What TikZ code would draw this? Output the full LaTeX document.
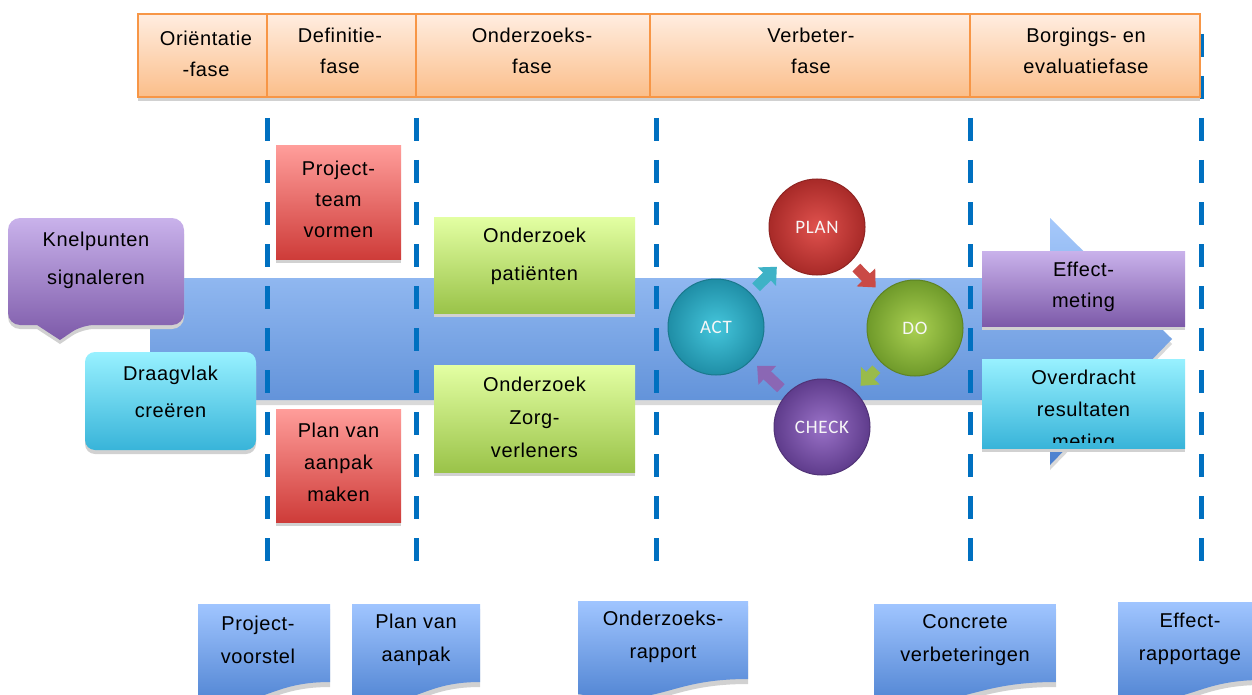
\documentclass[tikz,border=0pt]{standalone}
\usepackage{fontspec}
\setmainfont[LetterSpace=3]{Liberation Sans}
\newfontfamily\pdcafont[LetterSpace=4]{Carlito}
\usetikzlibrary{arrows.meta,shadows}
\definecolor{phTop}{HTML}{FFEDE0}
\definecolor{phBot}{HTML}{FBBE8A}
\definecolor{phBorder}{HTML}{F79646}
\definecolor{redTop}{HTML}{FF9D9A}
\definecolor{redBot}{HTML}{CE3C39}
\definecolor{grnTop}{HTML}{E3FFA3}
\definecolor{grnBot}{HTML}{9AC349}
\definecolor{purTop}{HTML}{C9B2EB}
\definecolor{purBot}{HTML}{7D5AA9}
\definecolor{cyTop}{HTML}{98F1FF}
\definecolor{cyBot}{HTML}{38B4D9}
\definecolor{docTop}{HTML}{A0C5FF}
\definecolor{docBot}{HTML}{4A7FCF}
\definecolor{arrTop}{HTML}{A6C9FB}
\definecolor{arrBot}{HTML}{4B80CE}
\definecolor{dashC}{HTML}{0070C0}
\definecolor{planIn}{HTML}{E0524E}
\definecolor{planOut}{HTML}{A82A28}
\definecolor{actIn}{HTML}{45C6DC}
\definecolor{actOut}{HTML}{1F8EA6}
\definecolor{doIn}{HTML}{AAD052}
\definecolor{doOut}{HTML}{6F9A2A}
\definecolor{chkIn}{HTML}{9A72C8}
\definecolor{chkOut}{HTML}{5F3C8C}
\begin{document}
\begin{tikzpicture}[x=1pt,y=-1pt,
  shd/.style={drop shadow={shadow xshift=0pt,shadow yshift=-4pt,fill=black!18,opacity=1}},
  txt/.style={align=center,inner sep=0pt,text=black,font=\fontsize{20}{32}\selectfont},
  phase/.style={draw=phBorder,line width=1.5pt,top color=phTop,bottom color=phBot,inner sep=0pt,minimum height=83,shd},
  redbox/.style={top color=redTop,bottom color=redBot,inner sep=0pt,minimum width=125,minimum height=113,shd},
  grnbox/.style={top color=grnTop,bottom color=grnBot,inner sep=0pt,minimum width=201,shd},
  purbox/.style={top color=purTop,bottom color=purBot,inner sep=0pt,shd},
  cybox/.style={top color=cyTop,bottom color=cyBot,inner sep=0pt,shd},
  dashline/.style={draw=dashC,line width=5pt,dash pattern=on 23pt off 19pt},
  pdca/.style={circle,minimum size=96,inner sep=0pt,line width=1pt,text=white!94!gray,font=\pdcafont\fontsize{19}{21}\selectfont},
  pdcaarr/.style={line width=11pt,-{Triangle[width=25pt,length=14pt]},shorten <=8pt,shorten >=8pt}
]
\useasboundingbox (0,0) rectangle (1252,695);
\clip (0,0) rectangle (1252,695);
\fill[white] (0,0) rectangle (1252,695);

% big blue arrow
\fill[black!15] (150,283) -- (1050,283) -- (1050,223) -- (1172,344) -- (1050,470) -- (1050,405) -- (150,405) -- cycle;
\path[top color=arrTop,bottom color=arrBot] (150,278) -- (1050,278) -- (1050,218) -- (1172,339) -- (1050,465) -- (1050,400) -- (150,400) -- cycle;

% dashed dividers
\foreach \x in {267,416,656,970,1201}
  \draw[dashline] (\x,34) -- (\x,561);

% phase headers
\node[phase,minimum width=129] (ph1) at (202.5,55.5) {};
\node[phase,minimum width=149] (ph2) at (341.5,55.5) {};
\node[phase,minimum width=234] (ph3) at (533,55.5) {};
\node[phase,minimum width=320] (ph4) at (810,55.5) {};
\node[phase,minimum width=230] (ph5) at (1085,55.5) {};
\node[txt,font=\fontsize{20}{31}\selectfont] (ph1t) at (206,54) {Oriëntatie\\-fase};
\node[txt,font=\fontsize{20}{31}\selectfont] (ph2t) at (340,51) {Definitie-\\fase};
\node[txt,font=\fontsize{20}{31}\selectfont] (ph3t) at (532,51) {Onderzoeks-\\fase};
\node[txt,font=\fontsize{20}{31}\selectfont] (ph4t) at (811,51) {Verbeter-\\fase};
\node[txt,font=\fontsize{20}{31}\selectfont] (ph5t) at (1086,51) {Borgings- en\\evaluatiefase};

% Knelpunten callout
\begin{scope}[yshift=-4pt]
\fill[black!18,rounded corners=12pt] (8,218) -- (184,218) -- (184,325) -- (82,325) [sharp corners] -- (60,340) -- (37,325) [rounded corners=12pt] -- (8,325) -- cycle;
\end{scope}
\path[top color=purTop,bottom color=purBot,rounded corners=12pt] (8,218) -- (184,218) -- (184,325) -- (82,325) [sharp corners] -- (60,340) -- (37,325) [rounded corners=12pt] -- (8,325) -- cycle;
\node[txt,font=\fontsize{20}{38}\selectfont] (knel) at (96,260) {Knelpunten\\signaleren};

% Draagvlak
\node[cybox,rounded corners=10pt,minimum width=171,minimum height=98] (drag) at (170.5,401) {};
\node[txt,font=\fontsize{20}{37}\selectfont] (dragt) at (170.5,392) {Draagvlak\\creëren};

% red boxes
\node[redbox] (team) at (338.5,202.5) {};
\node[txt,font=\fontsize{20}{31}\selectfont] (teamt) at (338.5,199) {Project-\\team\\vormen};
\node[redbox] (plan2) at (338.5,465.5) {};
\node[txt] (plan2t) at (338.5,462) {Plan van\\aanpak\\maken};

% green boxes
\node[grnbox,minimum height=96] (opat) at (534.5,265) {};
\node[txt,font=\fontsize{20}{38}\selectfont] (opatt) at (534.5,256) {Onderzoek\\patiënten};
\node[grnbox,minimum height=107] (ozorg) at (534.5,418.5) {};
\node[txt,font=\fontsize{20}{33}\selectfont] (ozorgt) at (534.5,417) {Onderzoek\\Zorg-\\verleners};

% right boxes
\node[purbox,minimum width=203,minimum height=75] (eff) at (1083.5,288.5) {};
\node[txt,font=\fontsize{20}{31}\selectfont] (efft) at (1083.5,287) {Effect-\\meting};
\node[cybox,minimum width=203,minimum height=89] (over) at (1083.5,403.5) {};
\begin{scope}
\clip (982,359) rectangle (1185,442);
\node[txt] (overt) at (1083.5,411) {Overdracht\\resultaten\\meting};
\end{scope}

% PDCA circles
\node[pdca,inner color=planIn,outer color=planOut,draw=planOut!85!black] (plan) at (817,227) {PLAN};
\node[pdca,inner color=doIn,outer color=doOut,draw=doOut!85!black] (do) at (915,328) {DO};
\node[pdca,inner color=chkIn,outer color=chkOut,draw=chkOut!85!black] (check) at (822,427) {CHECK};
\node[pdca,inner color=actIn,outer color=actOut,draw=actOut!85!black] (act) at (716,327) {ACT};
\draw[pdcaarr,draw=actIn!90!black] (act) -- (plan);
\draw[pdcaarr,draw=planIn!90!black] (plan) -- (do);
\draw[pdcaarr,draw=doIn!90!black] (do) -- (check);
\draw[pdcaarr,draw=chkIn!90!black] (check) -- (act);

% documents
\foreach \a/\b/\t in {198/330/604,352/480/604,578/748/601,874/1056/604,1118/1262/602}{
  \fill[black!18] (\a,\t+5) -- (\b,\t+5) -- (\b,\t+83) .. controls ({(\a+\b)/2},\t+83) and ({(\a+\b)/2},\t+113) .. (\a,\t+98) -- cycle;
  \path[top color=docTop,bottom color=docBot] (\a,\t) -- (\b,\t) -- (\b,\t+78) .. controls ({(\a+\b)/2},\t+78) and ({(\a+\b)/2},\t+108) .. (\a,\t+93) -- cycle;
}
\node[txt,font=\fontsize{20}{33}\selectfont] (doc1) at (258,640) {Project-\\voorstel};
\node[txt,font=\fontsize{20}{33}\selectfont] (doc2) at (416,640) {Plan van\\aanpak};
\node[txt,font=\fontsize{20}{33}\selectfont] (doc3) at (663,637) {Onderzoeks-\\rapport};
\node[txt,font=\fontsize{20}{33}\selectfont] (doc4) at (965,640) {Concrete\\verbeteringen};
\node[txt,font=\fontsize{20}{33}\selectfont] (doc5) at (1190,639) {Effect-\\rapportage};
\end{tikzpicture}
\end{document}
